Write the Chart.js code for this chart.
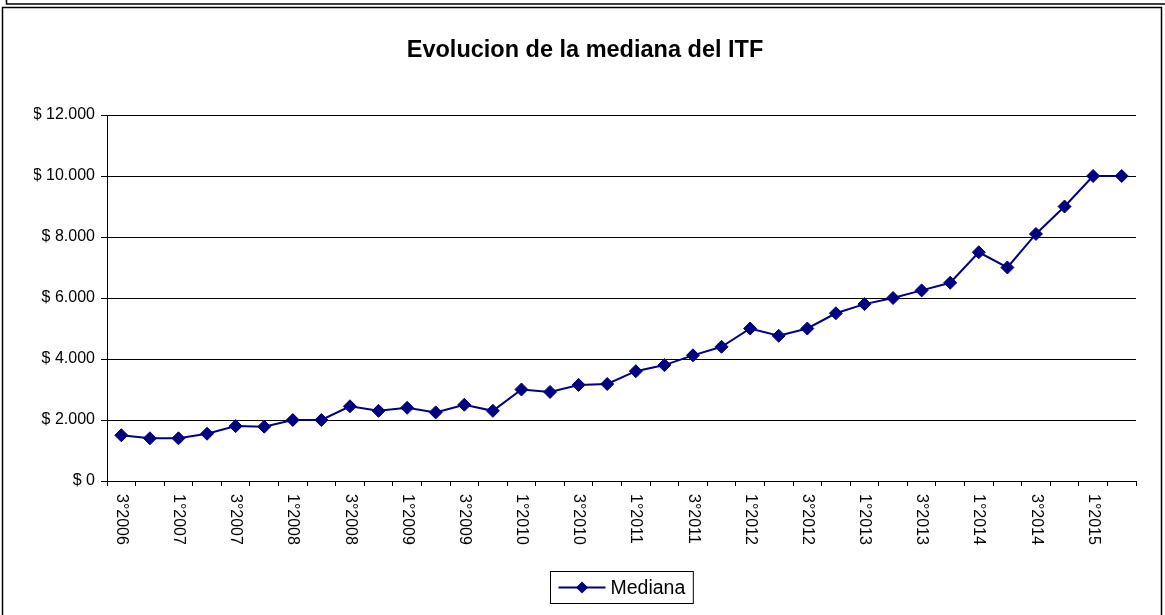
<!DOCTYPE html>
<html><head><meta charset="utf-8">
<script src="https://cdn.jsdelivr.net/npm/chart.js@4.4.1/dist/chart.umd.min.js"></script>
<style>html,body{margin:0;padding:0;background:#fff;overflow:hidden}canvas{display:block}</style>
</head><body>
<canvas id="c" width="1165" height="615"></canvas>
<script>
const categories = ['3°2006','4°2006','1°2007','2°2007','3°2007','4°2007','1°2008','2°2008','3°2008','4°2008','1°2009','2°2009','3°2009','4°2009','1°2010','2°2010','3°2010','4°2010','1°2011','2°2011','3°2011','4°2011','1°2012','2°2012','3°2012','4°2012','1°2013','2°2013','3°2013','4°2013','1°2014','2°2014','3°2014','4°2014','1°2015','2°2015'];
const medianaValues = [1500,1400,1400,1550,1800,1780,2000,2000,2450,2300,2400,2250,2500,2300,3000,2920,3150,3180,3600,3800,4120,4400,5000,4760,5000,5500,5800,6000,6250,6500,7500,7000,8100,9000,10000,10000];
const xTickLabels = ['3°2006','','1°2007','','3°2007','','1°2008','','3°2008','','1°2009','','3°2009','','1°2010','','3°2010','','1°2011','','3°2011','','1°2012','','3°2012','','1°2013','','3°2013','','1°2014','','3°2014','','1°2015',''];
const yTickLabels = ['$ 0','$ 2.000','$ 4.000','$ 6.000','$ 8.000','$ 10.000','$ 12.000'];
const seriesName = 'Mediana';
const titleText = 'Evolucion de la mediana del ITF';

const FONT = '"Liberation Sans", Arial, sans-serif';
const NAVY = '#000080';

const framePlugin = {
  id: 'frame',
  beforeDraw(chart) {
    const ctx = chart.ctx;
    ctx.save();
    ctx.fillStyle = '#fff';
    ctx.fillRect(0, 0, chart.width, chart.height);
    ctx.strokeStyle = '#000';
    ctx.lineWidth = 1.5;
    ctx.beginPath();
    ctx.moveTo(6.5, 0); ctx.lineTo(6.5, 4); ctx.lineTo(1165, 4);
    ctx.stroke();
    ctx.beginPath();
    ctx.rect(2.5, 7.5, 1159, 620);
    ctx.stroke();
    ctx.restore();
  }
};

const xLabelPlugin = {
  id: 'xLabels',
  afterDraw(chart) {
    const ctx = chart.ctx, x = chart.scales.x;
    ctx.save();
    ctx.font = '16px ' + FONT;
    ctx.fillStyle = '#000';
    ctx.textAlign = 'left';
    ctx.textBaseline = 'middle';
    xTickLabels.forEach((t, i) => {
      if (!t) return;
      const px = x.getPixelForTick(i);
      ctx.save();
      ctx.translate(px, x.top + 13);
      ctx.rotate(Math.PI / 2);
      ctx.fillText(t, 0, 0);
      ctx.restore();
    });
    ctx.restore();
  }
};

const legendPlugin = {
  id: 'customLegend',
  afterDraw(chart) {
    const ctx = chart.ctx;
    const ds = chart.data.datasets[0];
    ctx.save();
    ctx.font = '19.5px ' + FONT;
    const tw = ctx.measureText(ds.label).width;
    const lineW = 47, gap = 5, padL = 8, padR = 8;
    const boxW = padL + lineW + gap + tw + padR;
    const cx = 621;
    const left = Math.round(cx - boxW / 2) + 0.5;
    const top = 571.5, h = 32, cy = top + h / 2;
    ctx.strokeStyle = '#000';
    ctx.lineWidth = 1;
    ctx.strokeRect(left, top, boxW, h);
    const lx = left + padL;
    ctx.strokeStyle = ds.borderColor;
    ctx.lineWidth = 2;
    ctx.beginPath(); ctx.moveTo(lx, cy); ctx.lineTo(lx + lineW, cy); ctx.stroke();
    const dx = lx + lineW / 2, r = 6;
    ctx.fillStyle = ds.pointBackgroundColor;
    ctx.beginPath();
    ctx.moveTo(dx - r, cy); ctx.lineTo(dx, cy - r); ctx.lineTo(dx + r, cy); ctx.lineTo(dx, cy + r);
    ctx.closePath(); ctx.fill();
    ctx.fillStyle = '#000';
    ctx.textBaseline = 'middle';
    ctx.textAlign = 'left';
    ctx.fillText(ds.label, lx + lineW + gap, cy + 1);
    ctx.restore();
  }
};

new Chart(document.getElementById('c'), {
  type: 'line',
  data: {
    labels: categories,
    datasets: [{
      label: seriesName,
      data: medianaValues,
      borderColor: NAVY,
      backgroundColor: NAVY,
      borderWidth: 2,
      tension: 0,
      pointStyle: 'rectRot',
      pointRadius: 6.5,
      pointHoverRadius: 6.5,
      pointBackgroundColor: NAVY,
      pointBorderColor: NAVY,
      pointBorderWidth: 1
    }]
  },
  options: {
    responsive: false,
    animation: false,
    events: [],
    layout: { padding: { left: 34, right: 29, top: 0, bottom: 129 } },
    plugins: {
      legend: { display: false },
      tooltip: { enabled: false },
      title: {
        display: true,
        text: titleText,
        color: '#000',
        font: { family: FONT, size: 23.5, weight: 'bold', lineHeight: 1.2 },
        padding: { top: 36.5, bottom: 50.3 }
      }
    },
    scales: {
      x: {
        type: 'category',
        offset: true,
        grid: { offset: true, drawOnChartArea: false, drawTicks: true, tickLength: 5, color: '#000', lineWidth: 1 },
        border: { display: true, color: '#000', width: 1 },
        ticks: { display: false, autoSkip: false }
      },
      y: {
        min: 0, max: 12000,
        afterFit(scale) { scale.width = 73; },
        grid: { color: '#000', lineWidth: 1, drawTicks: true, tickLength: 6 },
        border: { display: true, color: '#000', width: 1 },
        ticks: {
          stepSize: 2000,
          padding: 6,
          color: '#000',
          font: { family: FONT, size: 16 },
          callback: (v, i) => yTickLabels[i]
        }
      }
    }
  },
  plugins: [framePlugin, xLabelPlugin, legendPlugin]
});
</script>
</body></html>
